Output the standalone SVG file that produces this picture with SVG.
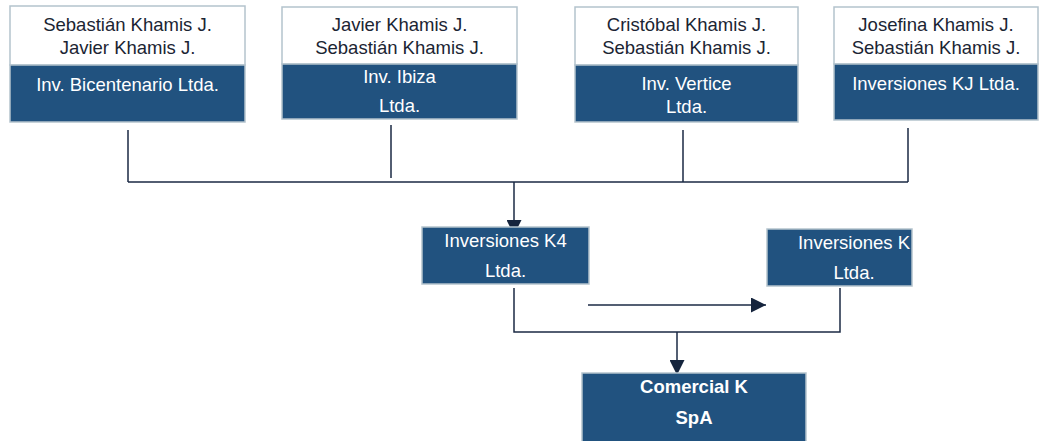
<svg xmlns="http://www.w3.org/2000/svg" width="1040" height="441" viewBox="0 0 1040 441">
<defs>
<style>
.w{fill:#ffffff;stroke:#b4c3cd;stroke-width:1.5}
.b{fill:#21527f;stroke:#b4c3cd;stroke-width:1.5}
.tk{font-family:"Liberation Sans",Arial,sans-serif;font-size:18.5px;fill:#1b2533;text-anchor:middle}
.tw{font-family:"Liberation Sans",Arial,sans-serif;font-size:18.5px;fill:#ffffff;text-anchor:middle}
.tb{font-family:"Liberation Sans",Arial,sans-serif;font-size:18.5px;font-weight:bold;fill:#ffffff;text-anchor:middle}
.ln{stroke:#1b2a44;stroke-width:1.5;fill:none}
</style>
<marker id="ah" viewBox="0 0 10 10" refX="10" refY="5" markerWidth="15" markerHeight="15" markerUnits="userSpaceOnUse" orient="auto">
<path d="M0,0 L10,5 L0,10 Z" fill="#15243d"/>
</marker>
</defs>
<rect width="1040" height="441" fill="#ffffff"/>
<g id="connectors">
<path class="ln" d="M128,130 V182 M391,125 V178 M683,130 V182 M908,128 V182 M128,182 H908"/>
<path class="ln" d="M514,182 V235" marker-end="url(#ah)"/>
<path class="ln" d="M588,305 H766" marker-end="url(#ah)"/>
<path class="ln" d="M514,288 V332 H840 V288"/>
<path class="ln" d="M677,332 V375" marker-end="url(#ah)"/>
</g>
<g id="n1">
<rect class="w" x="10" y="6" width="235" height="59"/>
<rect class="b" x="10" y="65" width="235" height="57"/>
<text class="tk" x="127.5" y="31">Sebastián Khamis J.</text>
<text class="tk" x="127.5" y="54">Javier Khamis J.</text>
<text class="tw" x="127.5" y="91">Inv. Bicentenario Ltda.</text>
</g>
<g id="n2">
<rect class="w" x="282" y="7" width="235" height="57"/>
<rect class="b" x="282" y="64" width="235" height="55"/>
<text class="tk" x="399.5" y="31">Javier Khamis J.</text>
<text class="tk" x="399.5" y="54">Sebastián Khamis J.</text>
<text class="tw" x="399.5" y="83">Inv. Ibiza</text>
<text class="tw" x="399.5" y="112">Ltda.</text>
</g>
<g id="n3">
<rect class="w" x="575" y="7" width="223" height="58"/>
<rect class="b" x="575" y="65" width="223" height="57"/>
<text class="tk" x="686.5" y="31">Cristóbal Khamis J.</text>
<text class="tk" x="686.5" y="54">Sebastián Khamis J.</text>
<text class="tw" x="686.5" y="90">Inv. Vertice</text>
<text class="tw" x="686.5" y="113">Ltda.</text>
</g>
<g id="n4">
<rect class="w" x="834" y="7" width="204" height="57"/>
<rect class="b" x="834" y="64" width="204" height="56"/>
<text class="tk" x="936" y="31">Josefina Khamis J.</text>
<text class="tk" x="936" y="54">Sebastián Khamis J.</text>
<text class="tw" x="936" y="90">Inversiones KJ Ltda.</text>
</g>
<g id="n5">
<rect class="b" x="422" y="227" width="167" height="57"/>
<text class="tw" x="505.5" y="247">Inversiones K4</text>
<text class="tw" x="505.5" y="277">Ltda.</text>
</g>
<g id="n6">
<rect class="b" x="767" y="229" width="145" height="57"/>
<text class="tw" x="854" y="249">Inversiones K</text>
<text class="tw" x="854" y="279">Ltda.</text>
</g>
<g id="n7">
<rect class="b" x="582" y="373" width="224" height="72"/>
<text class="tb" x="694" y="393">Comercial K</text>
<text class="tb" x="694" y="424">SpA</text>
</g>
</svg>
